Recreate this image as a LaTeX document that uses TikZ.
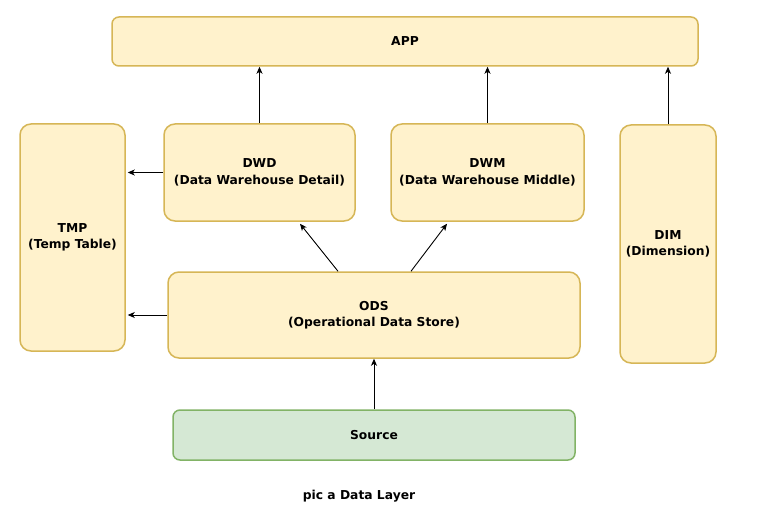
\documentclass[tikz,border=0pt]{standalone}
\usepackage{fontspec}
\setmainfont{DejaVu Sans}
\usetikzlibrary{arrows.meta,calc}
\begin{document}
\begin{tikzpicture}[x=1pt,y=-1pt,
  layer/.style={draw=layerline, fill=layerfill, line width=1.5pt, align=center,
    inner sep=0pt, font=\bfseries\fontsize{12.3}{16.5}\selectfont},
  srcbox/.style={layer, draw=srcline, fill=srcfill},
  arr/.style={draw=black, line width=0.9pt, -{Stealth[length=7pt,width=6pt,inset=2pt]}}]
\definecolor{layerline}{HTML}{D6B656}
\definecolor{layerfill}{HTML}{FFF2CC}
\definecolor{srcline}{HTML}{82B366}
\definecolor{srcfill}{HTML}{D5E8D4}
\useasboundingbox[fill=white] (0,0) rectangle (768,513);

% boxes of the layer stack
\node[layer, rounded corners=7pt, minimum width=586pt, minimum height=49pt] (app) at (405,41.5) {APP};
\node[layer, rounded corners=11pt, minimum width=105pt, minimum height=227pt] (tmp) at (72.5,237.5) {TMP\\(Temp Table)};
\node[layer, rounded corners=11pt, minimum width=191pt, minimum height=97pt] (dwd) at (259.5,172.5) {DWD\\(Data Warehouse Detail)};
\node[layer, rounded corners=11pt, minimum width=193pt, minimum height=97pt] (dwm) at (487.5,172.5) {DWM\\(Data Warehouse Middle)};
\node[layer, rounded corners=11pt, minimum width=96pt, minimum height=238pt] (dim) at (668,244) {DIM\\(Dimension)};
\node[layer, rounded corners=11pt, minimum width=412pt, minimum height=86pt] (ods) at (374,315) {ODS\\(Operational Data Store)};
\node[srcbox, rounded corners=7pt, minimum width=402pt, minimum height=50pt] (src) at (374,435) {Source};

% data flow
\draw[arr] (dwd.north) -- (dwd.north |- app.south);
\draw[arr] (dwm.north) -- (dwm.north |- app.south);
\draw[arr] (dim.north) -- (dim.north |- app.south);
\draw[arr, shorten >=2pt] (dwd.west) -- (dwd.west -| tmp.east);
\draw[arr, shorten >=2pt] (ods.west) -- (ods.west -| tmp.east);
\draw[arr] ($(ods.north)+(-36,0)$) -- ($(dwd.south)+(40.5,2)$);
\draw[arr] ($(ods.north)+(37,0)$) -- ($(dwm.south)+(-40.5,2)$);
\draw[arr] (src.north) -- (ods.south);

% caption
\node[font=\bfseries\fontsize{12.3}{15}\selectfont] (cap) at (359,496) {pic a Data Layer};
\end{tikzpicture}
\end{document}
